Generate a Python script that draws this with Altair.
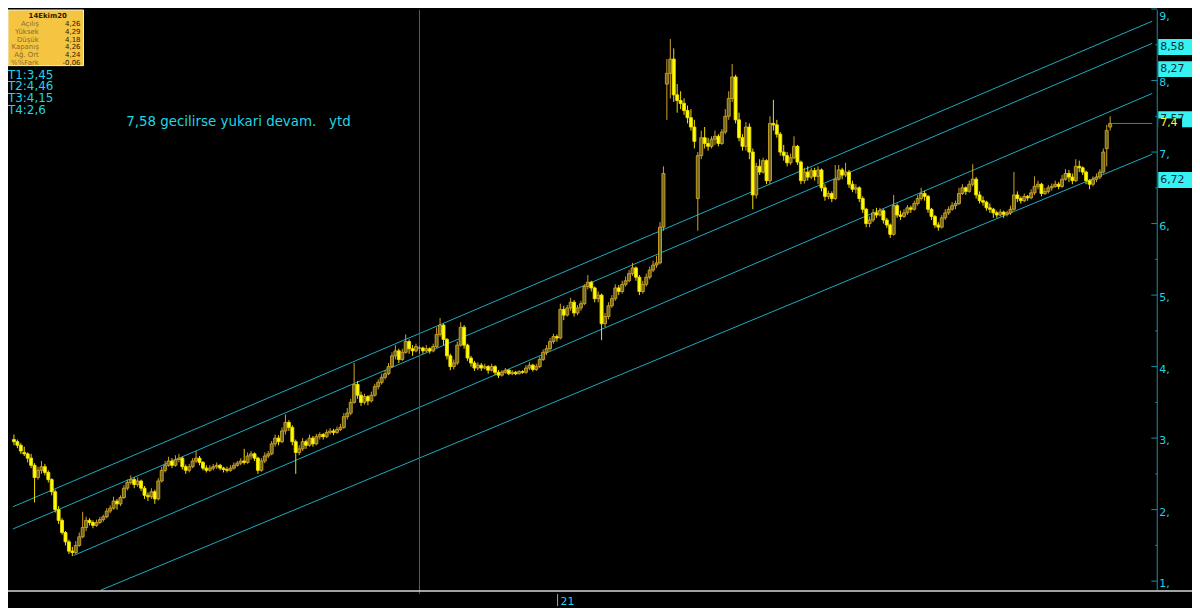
import altair as alt
import pandas as pd

# ---------------- data ----------------
opens = [
    2.98, 2.95, 2.9, 2.8, 2.78, 2.72, 2.62, 2.45, 2.55, 2.6,
    2.52, 2.42, 2.25, 2.0, 1.85, 1.68, 1.55, 1.42, 1.4, 1.5,
    1.62, 1.75, 1.85, 1.82, 1.78, 1.82, 1.86, 1.9, 1.98, 2.02,
    2.12, 2.08, 2.17, 2.3, 2.38, 2.42, 2.35, 2.4, 2.3, 2.2,
    2.18, 2.25, 2.15, 2.4, 2.55, 2.62, 2.68, 2.62, 2.7, 2.72,
    2.6, 2.55, 2.6, 2.68, 2.72, 2.66, 2.58, 2.55, 2.58, 2.6,
    2.62, 2.58, 2.56, 2.55, 2.58, 2.62, 2.65, 2.68, 2.66, 2.75,
    2.78, 2.72, 2.55, 2.68, 2.75, 2.78, 2.92, 3.0, 2.95, 3.1,
    3.22, 3.15, 2.95, 2.8, 2.85, 2.95, 2.9, 3.0, 2.92, 3.02,
    3.05, 3.02, 3.08, 3.1, 3.08, 3.12, 3.15, 3.3, 3.35, 3.5,
    3.75, 3.6, 3.5, 3.58, 3.52, 3.6, 3.72, 3.78, 3.85, 3.9,
    4.0, 4.15, 4.22, 4.1, 4.2, 4.35, 4.25, 4.22, 4.26, 4.26,
    4.22, 4.25, 4.22, 4.28, 4.45, 4.58, 4.38, 4.15, 4.0, 4.05,
    4.3, 4.55, 4.3, 4.12, 4.05, 3.98, 4.02, 3.98, 4.0, 3.95,
    4.0, 3.92, 3.88, 3.92, 3.95, 3.9, 3.92, 3.9, 3.93, 3.92,
    3.98, 4.02, 3.96, 4.0, 4.1, 4.2, 4.25, 4.35, 4.42, 4.4,
    4.8, 4.72, 4.82, 4.9, 4.75, 4.82, 4.88, 5.12, 5.18, 5.1,
    4.95, 5.0, 4.6, 4.7, 4.85, 4.95, 5.1, 5.05, 5.15, 5.2,
    5.3, 5.38, 5.25, 5.05, 5.15, 5.25, 5.35, 5.42, 5.45, 5.95,
    7.95, 8.1, 8.3, 7.8, 7.72, 7.68, 7.58, 7.48, 7.35, 6.35,
    6.95, 7.2, 7.12, 7.08, 7.18, 7.22, 7.12, 7.28, 7.5, 7.75,
    8.05, 7.45, 7.2, 7.08, 7.35, 7.0, 6.4, 6.8, 6.72, 6.88,
    6.6, 7.4, 7.38, 7.25, 7.0, 6.95, 6.85, 6.92, 7.08, 6.86,
    6.6, 6.72, 6.65, 6.74, 6.66, 6.75, 6.5, 6.38, 6.42, 6.35,
    6.62, 6.75, 6.68, 6.72, 6.55, 6.48, 6.5, 6.35, 6.2, 6.0,
    6.05, 6.15, 6.12, 6.18, 6.05, 5.98, 5.85, 6.25, 6.12, 6.1,
    6.15, 6.22, 6.2, 6.28, 6.35, 6.42, 6.38, 6.2, 6.1, 5.98,
    5.95, 6.08, 6.15, 6.2, 6.25, 6.28, 6.42, 6.5, 6.45, 6.55,
    6.62, 6.4, 6.32, 6.3, 6.22, 6.2, 6.15, 6.12, 6.16, 6.13,
    6.15, 6.2, 6.4, 6.35, 6.32, 6.38, 6.36, 6.43, 6.52, 6.55,
    6.42, 6.45, 6.5, 6.52, 6.55, 6.52, 6.62, 6.7, 6.65, 6.6,
    6.8, 6.78, 6.72, 6.6, 6.55, 6.62, 6.65, 6.72, 7.05, 7.35,
]
highs = [
    3.05, 2.98, 2.93, 2.88, 2.8, 2.78, 2.65, 2.6, 2.68, 2.64,
    2.55, 2.44, 2.28, 2.05, 1.88, 1.7, 1.58, 1.48, 1.56, 1.68,
    1.97, 1.9, 1.88, 1.85, 1.86, 1.9, 1.93, 2.02, 2.06, 2.18,
    2.15, 2.2, 2.34, 2.42, 2.48, 2.45, 2.45, 2.42, 2.33, 2.24,
    2.3, 2.28, 2.44, 2.6, 2.68, 2.74, 2.72, 2.76, 2.78, 2.74,
    2.63, 2.64, 2.72, 2.82, 2.75, 2.68, 2.62, 2.62, 2.64, 2.66,
    2.64, 2.6, 2.6, 2.62, 2.66, 2.68, 2.72, 2.85, 2.8, 2.82,
    2.8, 2.74, 2.72, 2.8, 2.82, 2.96, 3.05, 3.04, 3.15, 3.33,
    3.25, 3.18, 2.98, 2.9, 3.0, 2.98, 3.05, 3.03, 3.06, 3.08,
    3.07, 3.12, 3.14, 3.13, 3.16, 3.2, 3.35, 3.42, 3.55, 4.05,
    3.8, 3.65, 3.62, 3.6, 3.65, 3.76, 3.82, 3.9, 3.95, 4.05,
    4.2, 4.3, 4.25, 4.25, 4.45, 4.38, 4.3, 4.32, 4.29, 4.28,
    4.3, 4.27, 4.32, 4.55, 4.68, 4.6, 4.4, 4.18, 4.1, 4.35,
    4.62, 4.58, 4.32, 4.15, 4.08, 4.06, 4.05, 4.04, 4.02, 4.04,
    4.02, 3.95, 3.95, 3.98, 3.96, 3.95, 3.94, 3.95, 3.95, 4.02,
    4.06, 4.04, 4.04, 4.14, 4.24, 4.3, 4.4, 4.46, 4.45, 4.88,
    4.85, 4.86, 4.96, 4.93, 4.86, 4.92, 5.15, 5.28, 5.2, 5.12,
    5.05, 5.02, 4.75, 4.9, 5.0, 5.15, 5.14, 5.2, 5.26, 5.35,
    5.45, 5.4, 5.28, 5.2, 5.3, 5.4, 5.48, 5.55, 6.02, 6.8,
    8.3, 8.58, 8.45, 7.95, 7.85, 7.75, 7.65, 7.6, 7.45, 7.0,
    7.3, 7.35, 7.2, 7.22, 7.3, 7.25, 7.32, 7.6, 7.85, 8.23,
    8.08, 7.55, 7.25, 7.42, 7.4, 7.05, 6.85, 6.9, 6.92, 6.9,
    7.5, 7.73, 7.45, 7.28, 7.1, 7.0, 6.98, 7.22, 7.1, 6.88,
    6.78, 6.8, 6.78, 6.78, 6.8, 6.77, 6.55, 6.46, 6.45, 6.82,
    6.82, 6.78, 6.85, 6.75, 6.6, 6.55, 6.52, 6.38, 6.22, 6.1,
    6.2, 6.22, 6.22, 6.2, 6.08, 6.0, 6.4, 6.28, 6.18, 6.2,
    6.26, 6.25, 6.32, 6.4, 6.5, 6.46, 6.4, 6.22, 6.12, 6.02,
    6.12, 6.2, 6.24, 6.3, 6.32, 6.5, 6.55, 6.52, 6.6, 6.83,
    6.65, 6.45, 6.38, 6.32, 6.28, 6.22, 6.18, 6.2, 6.18, 6.18,
    6.25, 6.72, 6.45, 6.38, 6.42, 6.4, 6.48, 6.66, 6.6, 6.57,
    6.5, 6.54, 6.56, 6.6, 6.58, 6.68, 6.76, 6.75, 6.7, 6.9,
    6.88, 6.8, 6.74, 6.62, 6.66, 6.7, 6.76, 7.05, 7.38, 7.5,
]
lows = [
    2.9, 2.86, 2.78, 2.75, 2.66, 2.58, 2.1, 2.42, 2.5, 2.48,
    2.38, 2.2, 1.96, 1.8, 1.65, 1.5, 1.38, 1.35, 1.38, 1.48,
    1.6, 1.7, 1.78, 1.74, 1.76, 1.8, 1.83, 1.88, 1.95, 2.0,
    2.0, 2.05, 2.15, 2.27, 2.35, 2.3, 2.32, 2.26, 2.15, 2.12,
    2.15, 2.08, 2.13, 2.38, 2.52, 2.6, 2.58, 2.6, 2.66, 2.56,
    2.5, 2.52, 2.58, 2.65, 2.62, 2.55, 2.52, 2.53, 2.55, 2.57,
    2.55, 2.52, 2.52, 2.53, 2.56, 2.6, 2.62, 2.63, 2.64, 2.7,
    2.68, 2.5, 2.53, 2.65, 2.72, 2.76, 2.88, 2.9, 2.93, 3.05,
    3.1, 2.9, 2.5, 2.76, 2.82, 2.85, 2.88, 2.88, 2.9, 2.98,
    2.98, 3.0, 3.05, 3.04, 3.06, 3.1, 3.13, 3.26, 3.32, 3.48,
    3.55, 3.45, 3.47, 3.46, 3.5, 3.58, 3.68, 3.75, 3.82, 3.88,
    3.98, 4.1, 4.05, 4.08, 4.18, 4.18, 4.15, 4.2, 4.18, 4.18,
    4.2, 4.18, 4.2, 4.26, 4.42, 4.3, 4.1, 3.95, 3.96, 4.02,
    4.28, 4.25, 4.08, 4.0, 3.94, 3.95, 3.94, 3.96, 3.9, 3.93,
    3.88, 3.84, 3.86, 3.9, 3.88, 3.88, 3.88, 3.89, 3.9, 3.9,
    3.95, 3.93, 3.94, 3.98, 4.08, 4.16, 4.22, 4.32, 4.35, 4.38,
    4.65, 4.7, 4.78, 4.7, 4.72, 4.78, 4.86, 5.08, 5.05, 4.9,
    4.9, 4.37, 4.55, 4.66, 4.82, 4.92, 5.0, 5.02, 5.12, 5.18,
    5.27, 5.2, 5.0, 5.02, 5.12, 5.22, 5.32, 5.38, 5.43, 5.9,
    7.45, 7.75, 7.7, 7.55, 7.6, 7.52, 7.4, 7.3, 7.05, 5.9,
    6.9, 7.05, 7.02, 7.05, 7.1, 7.08, 7.1, 7.25, 7.45, 7.7,
    7.4, 7.15, 7.02, 7.02, 6.9, 6.2, 6.35, 6.68, 6.7, 6.55,
    6.55, 7.3, 7.2, 6.95, 6.88, 6.8, 6.82, 6.9, 6.82, 6.55,
    6.56, 6.6, 6.62, 6.6, 6.55, 6.45, 6.32, 6.34, 6.3, 6.33,
    6.6, 6.62, 6.65, 6.5, 6.44, 6.42, 6.3, 6.15, 5.95, 5.95,
    6.02, 6.08, 6.1, 6.0, 5.94, 5.8, 5.83, 6.08, 6.05, 6.08,
    6.12, 6.15, 6.18, 6.25, 6.32, 6.32, 6.15, 6.05, 5.94, 5.9,
    5.93, 6.05, 6.12, 6.18, 6.2, 6.26, 6.4, 6.4, 6.43, 6.52,
    6.35, 6.28, 6.25, 6.18, 6.15, 6.08, 6.08, 6.1, 6.08, 6.1,
    6.12, 6.18, 6.3, 6.28, 6.3, 6.32, 6.34, 6.4, 6.48, 6.38,
    6.4, 6.42, 6.46, 6.5, 6.48, 6.5, 6.6, 6.58, 6.55, 6.58,
    6.72, 6.68, 6.55, 6.48, 6.52, 6.58, 6.62, 6.7, 6.8, 7.3,
]
closes = [
    2.95, 2.9, 2.82, 2.78, 2.72, 2.62, 2.45, 2.55, 2.6, 2.52,
    2.42, 2.25, 2.0, 1.85, 1.68, 1.55, 1.42, 1.4, 1.5, 1.62,
    1.75, 1.85, 1.82, 1.78, 1.82, 1.86, 1.9, 1.98, 2.02, 2.12,
    2.08, 2.17, 2.3, 2.38, 2.42, 2.35, 2.4, 2.3, 2.2, 2.18,
    2.25, 2.15, 2.4, 2.55, 2.62, 2.68, 2.62, 2.7, 2.72, 2.6,
    2.55, 2.6, 2.68, 2.72, 2.66, 2.58, 2.55, 2.58, 2.6, 2.62,
    2.58, 2.56, 2.55, 2.58, 2.62, 2.65, 2.68, 2.66, 2.75, 2.78,
    2.72, 2.55, 2.68, 2.75, 2.78, 2.92, 3.0, 2.95, 3.1, 3.22,
    3.15, 2.95, 2.8, 2.85, 2.95, 2.9, 3.0, 2.92, 3.02, 3.05,
    3.02, 3.08, 3.1, 3.08, 3.12, 3.15, 3.3, 3.35, 3.5, 3.75,
    3.6, 3.5, 3.58, 3.52, 3.6, 3.72, 3.78, 3.85, 3.9, 4.0,
    4.15, 4.22, 4.1, 4.2, 4.35, 4.25, 4.22, 4.28, 4.26, 4.22,
    4.25, 4.22, 4.28, 4.45, 4.58, 4.38, 4.15, 4.0, 4.05, 4.3,
    4.55, 4.3, 4.12, 4.05, 3.98, 4.02, 3.98, 4.0, 3.95, 4.0,
    3.92, 3.88, 3.92, 3.95, 3.9, 3.92, 3.9, 3.93, 3.92, 3.98,
    4.02, 3.96, 4.0, 4.1, 4.2, 4.25, 4.35, 4.42, 4.4, 4.8,
    4.72, 4.82, 4.9, 4.75, 4.82, 4.88, 5.12, 5.18, 5.1, 4.95,
    5.0, 4.6, 4.7, 4.85, 4.95, 5.1, 5.05, 5.15, 5.2, 5.3,
    5.38, 5.25, 5.05, 5.15, 5.25, 5.35, 5.42, 5.45, 5.95, 6.7,
    8.1, 8.3, 7.8, 7.72, 7.68, 7.58, 7.48, 7.35, 7.15, 6.95,
    7.2, 7.12, 7.08, 7.18, 7.22, 7.12, 7.28, 7.5, 7.75, 8.05,
    7.45, 7.2, 7.08, 7.35, 7.0, 6.4, 6.8, 6.72, 6.88, 6.6,
    7.4, 7.38, 7.25, 7.0, 6.95, 6.85, 6.92, 7.08, 6.86, 6.6,
    6.72, 6.65, 6.74, 6.66, 6.75, 6.5, 6.38, 6.42, 6.35, 6.62,
    6.75, 6.68, 6.72, 6.55, 6.48, 6.5, 6.35, 6.2, 6.0, 6.05,
    6.15, 6.12, 6.18, 6.05, 5.98, 5.85, 6.25, 6.12, 6.1, 6.15,
    6.22, 6.2, 6.28, 6.35, 6.42, 6.38, 6.2, 6.1, 5.98, 5.95,
    6.08, 6.15, 6.2, 6.25, 6.28, 6.42, 6.5, 6.45, 6.55, 6.62,
    6.4, 6.32, 6.3, 6.22, 6.2, 6.15, 6.12, 6.16, 6.13, 6.15,
    6.2, 6.4, 6.35, 6.32, 6.38, 6.36, 6.43, 6.52, 6.55, 6.42,
    6.45, 6.5, 6.52, 6.55, 6.52, 6.62, 6.7, 6.65, 6.6, 6.8,
    6.78, 6.72, 6.6, 6.55, 6.62, 6.65, 6.72, 7.0, 7.3, 7.4,
]

# channel lines (start index, start value, end index, end value)
chan_x0 = [-0.285, -0.285, 17.4, 25.3]
chan_v0 = [2.04, 1.73, 1.36, 0.875]
chan_x1 = [331.25, 331.25, 331.25, 331.25]
chan_v1 = [8.83, 8.52, 7.82, 6.97]

level_values = [8.58, 8.27, 7.57, 6.72]
level_texts = ["8,58", "8,27", "7,57", "6,72"]
last_value = [7.4]
last_text = ["7,4"]

axis_major = [1, 2, 3, 4, 5, 6, 7, 8, 9]
axis_labels = ["1,", "2,", "3,", "4,", "5,", "6,", "7,", "8,", "9,"]
axis_minor = [1.5, 2.5, 3.5, 4.5, 5.5, 6.5, 7.5, 8.5]

crosshair_idx = [118]
year_idx = [158.2]
year_text = ["21"]

info_date = "14Ekim20"
info_names = ["Açılış", "Yüksek", "Düşük", "Kapanış", "Ağ. Ort", "%%Fark"]
info_values = ["4,26", "4,29", "4,18", "4,26", "4,24", "-0,06"]
target_texts = ["T1:3,45", "T2:4,46", "T3:4,15", "T4:2,6"]
note_text = "7,58 gecilirse yukari devam.\u00a0\u00a0\u00a0ytd"

# ---------------- layout / style ----------------
W, H = 1157, 584
RIGHT, BOTTOM = 35, 16
X_DOM = [-0.285, 331.25]
Y_DOM = [0.875, 8.986]
PPU = H / (Y_DOM[1] - Y_DOM[0])
FONT = "DejaVu Sans"
CYAN_TXT = "#1fd6e6"
CHAN = "#1cadbe"
AXIS_C = "#1b8fa0"
BOX_C = "#36f2f2"
UP_FILL, UP_EDGE = "#6b6a22", "#d2a428"
DN_FILL, DN_EDGE = "#ffff00", "#f2e000"

xs = alt.Scale(domain=X_DOM, nice=False, zero=False)
ys = alt.Scale(domain=Y_DOM, nice=False, zero=False)
stroke_scale = alt.Scale(domain=["up", "down"], range=[UP_EDGE, DN_EDGE])
fill_scale = alt.Scale(domain=["up", "down"], range=[UP_FILL, DN_FILL])

n = len(closes)
candles = pd.DataFrame({"idx": list(range(n)), "o": opens, "h": highs, "l": lows, "c": closes})
candles["dir"] = ["up" if c >= o else "down" for o, c in zip(opens, closes)]

one = pd.DataFrame({"k": [0]})
layers = []

# channel lines
chan = pd.DataFrame({"x0": chan_x0, "v0": chan_v0, "x1": chan_x1, "v1": chan_v1})
layers.append(alt.Chart(chan).mark_rule(color=CHAN, strokeWidth=1).encode(
    x=alt.X("x0:Q", scale=xs, axis=None), x2="x1:Q",
    y=alt.Y("v0:Q", scale=ys, axis=None), y2="v1:Q"))

# crosshair
layers.append(alt.Chart(pd.DataFrame({"idx": crosshair_idx})).mark_rule(color="#5e5e5e", strokeWidth=1).encode(
    x=alt.X("idx:Q", scale=xs, axis=None), y=alt.value(0), y2=alt.value(H + 4)))

# wicks
layers.append(alt.Chart(candles).mark_rule(strokeWidth=1).encode(
    x=alt.X("idx:Q", scale=xs, axis=None),
    y=alt.Y("l:Q", scale=ys, axis=None), y2="h:Q",
    stroke=alt.Stroke("dir:N", scale=stroke_scale, legend=None)))

# bodies
layers.append(alt.Chart(candles).mark_bar(width=3, strokeWidth=0.9).encode(
    x=alt.X("idx:Q", scale=xs, axis=None),
    y=alt.Y("o:Q", scale=ys, axis=None), y2="c:Q",
    fill=alt.Fill("dir:N", scale=fill_scale, legend=None),
    stroke=alt.Stroke("dir:N", scale=stroke_scale, legend=None)))

# green last-price line
green = pd.DataFrame({"x0": [n - 1 + 0.6], "x1": [X_DOM[1]], "v": last_value})
layers.append(alt.Chart(green).mark_rule(color="#22a822", strokeWidth=1).encode(
    x=alt.X("x0:Q", scale=xs, axis=None), x2="x1:Q", y=alt.Y("v:Q", scale=ys, axis=None)))

# right price axis: line, inward ticks, labels
layers.append(alt.Chart(one).mark_rule(color=AXIS_C, strokeWidth=1).encode(
    x=alt.value(W), y=alt.value(0), y2=alt.value(H)))
axdf = pd.DataFrame({"v": axis_major, "t": axis_labels})
layers.append(alt.Chart(axdf).mark_rule(color=AXIS_C).encode(
    x=alt.value(W - 6), x2=alt.value(W), y=alt.Y("v:Q", scale=ys, axis=None)))
layers.append(alt.Chart(pd.DataFrame({"v": axis_minor})).mark_rule(color=AXIS_C).encode(
    x=alt.value(W - 2), x2=alt.value(W), y=alt.Y("v:Q", scale=ys, axis=None)))
top_limit = Y_DOM[1] - 4.5 / PPU
layers.append(alt.Chart(axdf).transform_calculate(
    lv=f"min(datum.v, {top_limit})").mark_text(
    align="left", baseline="middle", dy=3, font=FONT, fontSize=11, color=CYAN_TXT).encode(
    x=alt.value(W + 2), y=alt.Y("lv:Q", scale=ys, axis=None), text="t:N"))

# level boxes
BOX_H = 16
lv = pd.DataFrame({"v": level_values, "t": level_texts})
layers.append(alt.Chart(lv).transform_calculate(vb=f"datum.v - {BOX_H / PPU}").mark_rect(fill=BOX_C).encode(
    x=alt.value(W + 1), x2=alt.value(W + RIGHT), y=alt.Y("v:Q", scale=ys, axis=None), y2="vb:Q"))
layers.append(alt.Chart(lv).mark_text(align="left", baseline="middle", dy=BOX_H / 2, font=FONT,
                                      fontSize=11, color="#0b2a35").encode(
    x=alt.value(W + 3), y=alt.Y("v:Q", scale=ys, axis=None), text="t:N"))

# last value label
lastdf = pd.DataFrame({"v": last_value, "t": last_text})
layers.append(alt.Chart(lastdf).transform_calculate(
    top=f"datum.v + {5 / PPU}", bot=f"datum.v - {7 / PPU}").mark_rect(fill="black").encode(
    x=alt.value(W + 1), x2=alt.value(W + 25), y=alt.Y("top:Q", scale=ys, axis=None), y2="bot:Q"))
layers.append(alt.Chart(lastdf).mark_text(align="left", baseline="middle", font=FONT, fontSize=11,
                                          color="#ffff30").encode(
    x=alt.value(W + 3), y=alt.Y("v:Q", scale=ys, axis=None), text="t:N"))

# bottom line and year tick
layers.append(alt.Chart(one).mark_rule(color="#d9d9d9", strokeWidth=1.5).encode(
    x=alt.value(0), x2=alt.value(W + RIGHT), y=alt.value(H + 1)))
yr = pd.DataFrame({"idx": year_idx, "t": year_text})
layers.append(alt.Chart(yr).mark_rule(color="#a8a8a8").encode(
    x=alt.X("idx:Q", scale=xs, axis=None), y=alt.value(H + 4), y2=alt.value(H + BOTTOM)))
layers.append(alt.Chart(yr).mark_text(align="left", baseline="middle", dx=3, font=FONT, fontSize=11,
                                      color=CYAN_TXT).encode(
    x=alt.X("idx:Q", scale=xs, axis=None), y=alt.value(H + 12), text="t:N"))

# info box
layers.append(alt.Chart(one).mark_rect(fill="#f5c440", stroke="#f0f0e0", strokeWidth=1).encode(
    x=alt.value(0), x2=alt.value(76), y=alt.value(0), y2=alt.value(56)))
layers.append(alt.Chart(pd.DataFrame({"t": [info_date]})).mark_text(
    align="center", baseline="middle", font=FONT, fontSize=7, fontWeight="bold", color="#2a1c00").encode(
    x=alt.value(40), y=alt.value(6), text="t:N"))
for k, (nm, vl) in enumerate(zip(info_names, info_values)):
    yy = 14.5 + 7.7 * k
    layers.append(alt.Chart(pd.DataFrame({"t": [nm]})).mark_text(
        align="right", baseline="middle", font=FONT, fontSize=7, color="#8c6e2e").encode(
        x=alt.value(31), y=alt.value(yy), text="t:N"))
    layers.append(alt.Chart(pd.DataFrame({"t": [vl]})).mark_text(
        align="right", baseline="middle", font=FONT, fontSize=7, color="#2a1c00").encode(
        x=alt.value(73), y=alt.value(yy), text="t:N"))

# target texts and note
for k, tt in enumerate(target_texts):
    layers.append(alt.Chart(pd.DataFrame({"t": [tt]})).mark_text(
        align="left", baseline="middle", font=FONT, fontSize=12, color=CYAN_TXT).encode(
        x=alt.value(0), y=alt.value(65 + 12 * k), text="t:N"))
layers.append(alt.Chart(pd.DataFrame({"t": [note_text]})).mark_text(
    align="left", baseline="middle", font=FONT, fontSize=13.5, color=CYAN_TXT).encode(
    x=alt.value(119), y=alt.value(113), text="t:N"))

chart = alt.layer(*layers).properties(
    width=W, height=H, background="black",
    autosize=alt.AutoSizeParams(type="none"),
    padding={"left": 0, "top": 0, "right": RIGHT, "bottom": BOTTOM},
).configure_view(stroke=None)

chart.save("out.html", embed_options={"renderer": "svg", "actions": False})
